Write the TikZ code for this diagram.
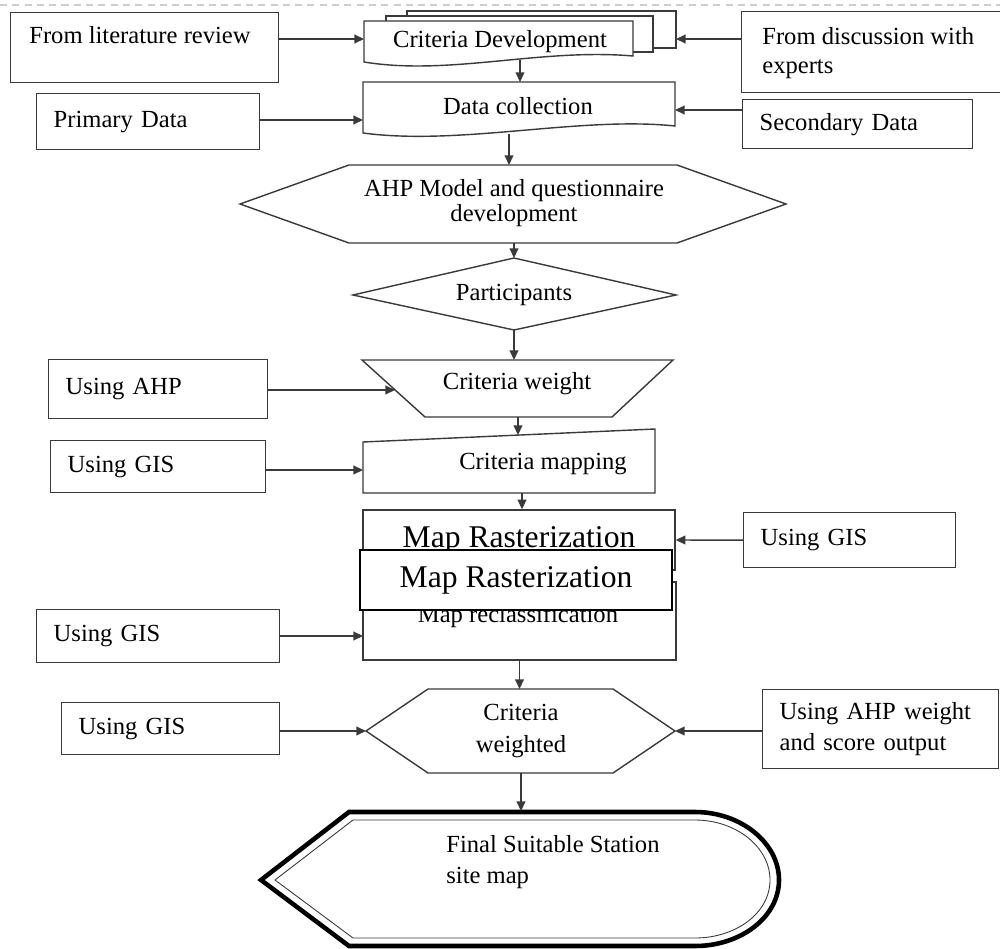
\documentclass[tikz,border=0pt]{standalone}
\usepackage{fontspec}
\setmainfont{Liberation Serif}
\usetikzlibrary{arrows.meta, positioning, calc}
\definecolor{edge}{HTML}{3A3A3A}
\definecolor{rulegray}{HTML}{CDCDCD}

\begin{document}
\begin{tikzpicture}[
    x=0.02cm, y=-0.02cm,
    every node/.style={font=\fontsize{14}{18}\selectfont, inner sep=0pt},
    sidebox/.style={draw=edge, line width=0.8pt, fill=white, anchor=north west,
                    align=left, inner xsep=0.34cm, text width=#1},
    flow/.style={draw=edge, line width=0.8pt, fill=white},
    arrow/.style={-{Triangle[length=5.5pt, width=5pt]}, line width=0.8pt, edge},
    rasterbox/.style={draw=edge, line width=0.8pt, fill=white, minimum width=6.24cm,
                      minimum height=1.2cm, font=\fontsize{18}{22}\selectfont}
  ]
    \useasboundingbox (0,0) rectangle (1000,949);
    \draw[rulegray, line width=0.6pt, dash pattern=on 4pt off 3pt] (0,5) -- (1000,5);

    % left inputs
    \node[sidebox=4.68cm, minimum height=1.4cm] (lit) at (10,12) {};
    \node[anchor=west] (lit-t) at (29,35) {From literature review};
    \node[sidebox=3.78cm, minimum height=1.12cm] (primary) at (36,93) {Primary Data};
    \node[sidebox=3.70cm, minimum height=1.18cm] (usingahp) at (48,359) {Using AHP};
    \node[sidebox=3.62cm, minimum height=1.04cm] (gis1) at (50,440) {Using GIS};
    \node[sidebox=4.18cm, minimum height=1.06cm] (gis2) at (36,609) {Using GIS};
    \node[sidebox=3.68cm, minimum height=1.04cm] (gis3) at (61,702) {Using GIS};

    % right inputs
    \node[minimum width=5.16cm, minimum height=1.6cm] (experts) at (871,52) {};
    \draw[edge, line width=0.8pt] (experts.north east) -- (experts.north west)
      -- (experts.south west) -- (experts.south east);
    \node[anchor=west, align=left, font=\fontsize{14}{16.5}\selectfont] (experts-t)
      at (762,53) {From discussion with\\experts};
    \node[sidebox=3.92cm, minimum height=0.98cm] (secondary) at (742,99) {Secondary Data};
    \node[sidebox=3.56cm, minimum height=1.1cm] (gisR) at (743,512) {Using GIS};
    \node[sidebox=4.04cm, minimum height=1.58cm] (ahpw) at (762,689)
      {Using AHP weight\\and score output};

    % criteria development (stacked documents)
    \draw[flow] (407,11) rectangle (676,48);
    \draw[flow] (386,16) rectangle (653,52);
    \draw[flow] (364,21) -- (633,21) -- (633,56)
      .. controls (540,48) and (450,76) .. (364,62) -- cycle;
    \node (crit) at (500,42) {Criteria Development};
    \coordinate (crit-w) at (364,39);
    \coordinate (crit-e) at (676,39);
    \coordinate (crit-s) at (520,60);

    % data collection
    \draw[flow] (363,82) -- (675,82) -- (675,126)
      .. controls (580,116) and (460,146) .. (363,133) -- cycle;
    \node (data) at (518,106) {Data collection};
    \coordinate (data-n) at (520,82);
    \coordinate (data-w) at (363,120);
    \coordinate (data-e) at (675,110);
    \coordinate (data-s) at (509,134);

    % AHP model
    \draw[flow] (240,204) -- (349,165) -- (677,165) -- (786,204) -- (677,243)
      -- (349,243) -- cycle;
    \node[align=center, font=\fontsize{14}{14.5}\selectfont] (ahp) at (514,203)
      {AHP Model and questionnaire\\development};
    \coordinate (ahp-n) at (509,165);
    \coordinate (ahp-s) at (514,243);

    % participants
    \draw[flow] (514,258) -- (676,295) -- (514,330) -- (353,295) -- cycle;
    \node (part) at (514,295) {Participants};
    \coordinate (part-n) at (514,258);
    \coordinate (part-s) at (514,330);

    % criteria weight
    \draw[flow] (362,360) -- (673,360) -- (612,417) -- (425,417) -- cycle;
    \node (weight) at (517,384) {Criteria weight};
    \coordinate (weight-n) at (514,360);
    \coordinate (weight-w) at (395,390);
    \coordinate (weight-s) at (518,417);

    % criteria mapping
    \draw[flow] (363,442) -- (655,429) -- (655,493) -- (363,493) -- cycle;
    \node (mapping) at (543,464) {Criteria mapping};
    \coordinate (mapping-n) at (518,435);
    \coordinate (mapping-w) at (363,470);
    \coordinate (mapping-s) at (522,493);

    % rasterization and reclassification
    \node[rasterbox] (raster) at (519,540) {Map Rasterization};
    \node[draw=edge, line width=0.8pt, fill=white, minimum width=6.26cm,
          minimum height=1.56cm] (reclass) at (519.5,621) {};
    \node (reclass-t) at (518,616) {Map reclassification};
    \node[rasterbox, draw=black, line width=0.7pt] (raster2) at (516,580) {Map Rasterization};
    \coordinate (reclass-w) at (363,636);

    % criteria weighted
    \draw[flow] (366,731) -- (428,689) -- (613,689) -- (675,731) -- (613,773)
      -- (428,773) -- cycle;
    \node[align=center] (wtd) at (521,731) {Criteria\\weighted};
    \coordinate (wtd-n) at (521,689);
    \coordinate (wtd-w) at (366,731);
    \coordinate (wtd-e) at (675,731);
    \coordinate (wtd-s) at (521,773);

    % final map (display shape)
    \draw[black, line width=2.6pt, fill=white, line join=miter] (261,880) -- (349,812)
      -- (695,812) .. controls (741,812) and (779,843) .. (779,880)
      .. controls (779,917) and (741,946) .. (695,946) -- (349,946) -- cycle;
    \draw[edge, line width=0.5pt] (275,880) -- (353,820) -- (695,820)
      .. controls (736,820) and (770,847) .. (770,880)
      .. controls (770,913) and (736,938) .. (695,938) -- (353,938) -- cycle;
    \node[anchor=west, align=left] (final) at (446,862)
      {Final Suitable Station\\site map};
    \coordinate (final-n) at (521,811);

    \draw[arrow] (lit.east |- crit-w) -- (crit-w);
    \draw[arrow] (experts.west |- crit-e) -- (crit-e);
    \draw[arrow] (crit-s) -- (data-n);
    \draw[arrow] (primary.east |- data-w) -- (data-w);
    \draw[arrow] (secondary.west |- data-e) -- (data-e);
    \draw[arrow] (data-s) -- (ahp-n);
    \draw[arrow] (ahp-s) -- (part-n);
    \draw[arrow] (part-s) -- (weight-n);
    \draw[arrow] (usingahp.east |- weight-w) -- (weight-w);
    \draw[arrow] (weight-s) -- (mapping-n);
    \draw[arrow] (gis1.east |- mapping-w) -- (mapping-w);
    \draw[arrow] (mapping-s) -- (mapping-s |- raster.north);
    \draw[arrow] (gisR.west) -- (raster.east);
    \draw[arrow] (gis2.east |- reclass-w) -- (reclass-w);
    \draw[arrow] (reclass.south) -- (reclass.south |- wtd-n);
    \draw[arrow] (gis3.east |- wtd-w) -- (wtd-w);
    \draw[arrow] (ahpw.west |- wtd-e) -- (wtd-e);
    \draw[arrow] (wtd-s) -- (final-n);
  \end{tikzpicture}
\end{document}
